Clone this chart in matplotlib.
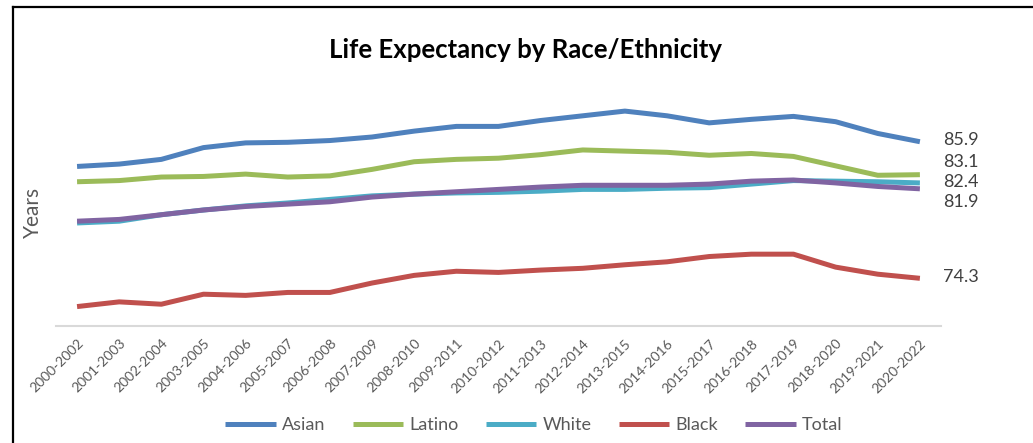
import matplotlib.pyplot as plt
from matplotlib.lines import Line2D

# three-year periods on the x axis
periods = ['2000-2002', '2001-2003', '2002-2004', '2003-2005', '2004-2006',
           '2005-2007', '2006-2008', '2007-2009', '2008-2010', '2009-2011',
           '2010-2012', '2011-2013', '2012-2014', '2013-2015', '2014-2016',
           '2015-2017', '2016-2018', '2017-2019', '2018-2020', '2019-2021',
           '2020-2022']

asian = [83.8, 84.0, 84.4, 85.4, 85.8, 85.85, 86.0, 86.3, 86.8, 87.2, 87.2,
         87.7, 88.1, 88.5, 88.1, 87.5, 87.8, 88.05, 87.6, 86.6, 85.9]
latino = [82.5, 82.6, 82.9, 82.95, 83.15, 82.9, 83.0, 83.55, 84.2, 84.4, 84.5,
          84.8, 85.2, 85.1, 85.0, 84.75, 84.9, 84.65, 83.85, 83.05, 83.1]
white = [79.0, 79.15, 79.7, 80.1, 80.45, 80.7, 81.0, 81.3, 81.45, 81.55, 81.6,
         81.7, 81.85, 81.85, 81.95, 82.0, 82.3, 82.6, 82.55, 82.5, 82.4]
black = [71.9, 72.3, 72.1, 72.95, 72.85, 73.1, 73.1, 73.9, 74.55, 74.9, 74.8,
         75.0, 75.15, 75.45, 75.7, 76.15, 76.35, 76.35, 75.25, 74.65, 74.3]
total = [79.15, 79.3, 79.7, 80.1, 80.4, 80.6, 80.8, 81.2, 81.45, 81.65, 81.85,
         82.05, 82.2, 82.2, 82.2, 82.3, 82.55, 82.65, 82.4, 82.1, 81.9]

series_names = ['Asian', 'Latino', 'White', 'Black', 'Total']
end_labels = ['85.9', '83.1', '82.4', '74.3', '81.9']

colors = ['#4F81BD', '#9BBB59', '#4BACC6', '#C0504D', '#8064A2']
# pixel nudges for the end labels (they were moved by hand in the original)
label_dy = [2, 13, 1, 1, -13]

plt.rcParams['font.family'] = ['Lato', 'DejaVu Sans']

fig = plt.figure(figsize=(10.33, 4.43), dpi=100)
ax = fig.add_axes([0.0542, 0.2641, 0.8567, 0.525])

x = list(range(len(periods)))
all_series = [asian, latino, white, black, total]
for name, vals, col in zip(series_names, all_series, colors):
    ax.plot(x, vals, color=col, linewidth=3.6, label=name,
            solid_capstyle='butt', solid_joinstyle='round')

for vals, lab, dy in zip(all_series, end_labels, label_dy):
    ax.annotate(lab, xy=(x[-1], vals[-1]), xytext=(23, dy),
                textcoords='offset pixels', fontsize=13, color='#404040',
                va='center', ha='left', annotation_clip=False)

ax.set_xlim(-0.5, len(periods) - 0.5)
ax.set_ylim(70.25, 90)
ax.set_xticks(x)
ax.set_xticklabels(periods, rotation=45, ha='right', rotation_mode='anchor',
                   fontsize=10, color='#595959')
ax.tick_params(axis='x', length=0, pad=8)
ax.set_yticks([])
for side in ['top', 'right', 'left']:
    ax.spines[side].set_visible(False)
ax.spines['bottom'].set_color('#D9D9D9')
ax.spines['bottom'].set_linewidth(1.5)

fig.text(0.509, 0.887, 'Life Expectancy by Race/Ethnicity', ha='center',
         va='center', fontsize=18.5, fontweight='bold', color='black')
fig.text(0.032, 0.521, 'Years', rotation=90, ha='center', va='center',
         fontsize=15, color='#595959')

fig.legend(loc='center', bbox_to_anchor=(0.517, 0.04), ncol=5, frameon=False,
           fontsize=13, handlelength=2.8, handletextpad=0.35,
           columnspacing=1.5, labelcolor='#595959')

# frame lines at the top and left of the picture
fig.add_artist(Line2D([13 / 1033, 1], [1 - 7 / 443, 1 - 7 / 443],
                      color='black', linewidth=1.6, transform=fig.transFigure))
fig.add_artist(Line2D([13 / 1033, 13 / 1033], [0, 1 - 7 / 443],
                      color='black', linewidth=1.6, transform=fig.transFigure))

fig.savefig('out.png', dpi=100)
